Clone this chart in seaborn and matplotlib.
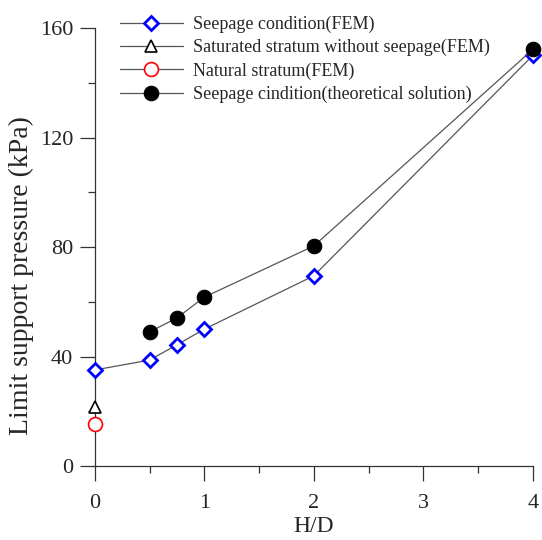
import pandas as pd
import matplotlib.pyplot as plt
import seaborn as sns

hd_fem = [0, 0.5, 0.75, 1, 2, 4]
seepage_fem = [35.1, 38.7, 44.3, 50.0, 69.5, 150.0]

hd_theory = [0.5, 0.75, 1, 2, 4]
seepage_theory = [49.0, 54.1, 61.7, 80.4, 152.2]

hd_single = [0]
saturated_fem = [21.5]
natural_fem = [15.5]

sns.set_style("ticks")
plt.rcParams['font.family'] = ['Liberation Serif', 'DejaVu Serif']

fig = plt.figure(figsize=(5.42, 5.40), dpi=100)
ax = fig.add_axes([0.175, 0.137, 0.808, 0.811])

line_kw = dict(color="#555555", linewidth=0.9, clip_on=False)

sns.lineplot(x=hd_fem, y=seepage_fem, ax=ax, marker="D", markersize=7,
             markerfacecolor="white", markeredgecolor="#0000ff", markeredgewidth=2,
             label="Seepage condition(FEM)", zorder=3, **line_kw)
sns.lineplot(x=hd_single, y=saturated_fem, ax=ax, marker="^", markersize=8,
             markerfacecolor="white", markeredgecolor="black", markeredgewidth=1.2,
             label="Saturated stratum without seepage(FEM)", zorder=3, **line_kw)
sns.lineplot(x=hd_single, y=natural_fem, ax=ax, marker="o", markersize=10,
             markerfacecolor="white", markeredgecolor="red", markeredgewidth=1.2,
             label="Natural stratum(FEM)", zorder=3, **line_kw)
sns.lineplot(x=hd_theory, y=seepage_theory, ax=ax, marker="o", markersize=10.5,
             markerfacecolor="black", markeredgecolor="black",
             label="Seepage cindition(theoretical solution)", zorder=4, **line_kw)

ax.set_xlim(0, 4)
ax.set_ylim(0, 160)
ax.set_xticks([0, 1, 2, 3, 4])
ax.set_xticks([0.5, 1.5, 2.5, 3.5], minor=True)
ax.set_yticks([0, 40, 80, 120, 160])
ax.set_yticks([20, 60, 100, 140], minor=True)
ax.tick_params(which="major", direction="out", length=10.5, width=0.9, labelsize=16, color="#333333", pad=5)
ax.tick_params(which="minor", direction="out", length=5, width=0.9, color="#333333")
ax.tick_params(axis="x", which="major", pad=10)
sns.despine(ax=ax)
for s in ["left", "bottom"]:
    ax.spines[s].set_linewidth(0.9)
    ax.spines[s].set_color("#333333")

ax.set_xlabel("H/D", fontsize=17, labelpad=2)
ax.set_ylabel("Limit support pressure (kPa)", fontsize=20)
ax.yaxis.set_label_coords(-0.14, 0.436)

ax.legend(loc="upper left", bbox_to_anchor=(0.02, 1.065), frameon=False, fontsize=13,
          handlelength=3.5, handletextpad=0.55, labelspacing=0.33)

plt.savefig("out.png", dpi=100)
